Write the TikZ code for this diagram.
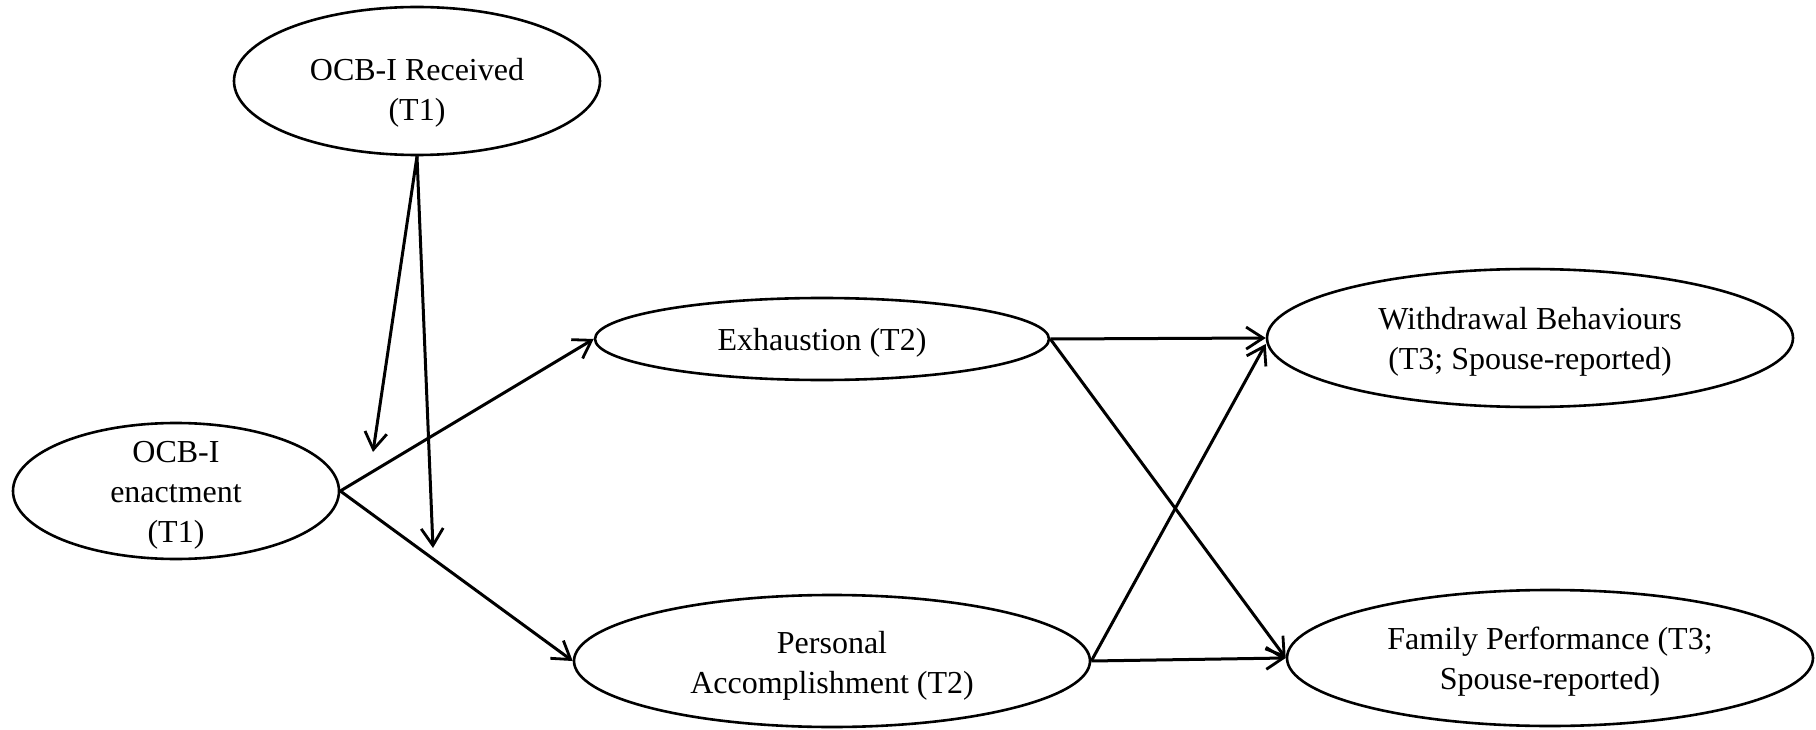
\documentclass[tikz,border=0pt]{standalone}
\usepackage{fontspec}
\setmainfont{Liberation Serif}
\usetikzlibrary{shapes.geometric,arrows.meta}
\begin{document}
\begin{tikzpicture}[x=1pt,y=-1pt,
  latent/.style={draw,ellipse,line width=2.6pt,inner sep=0pt},
  lbl/.style={align=center,inner sep=0pt,font=\fontsize{32}{40}\selectfont},
  path/.style={line width=3pt,-{Straight Barb[length=17pt,width=22pt,line width=2.8pt]}}]
\useasboundingbox (0,0) rectangle (1816,730);
\node[latent,minimum width=366pt,minimum height=148pt,
  label={[lbl,yshift=-12pt]center:OCB-I Received\\(T1)}] (rec) at (417,81) {};
\node[latent,minimum width=326pt,minimum height=136pt,
  label={[lbl,yshift=-4pt]center:OCB-I\\enactment\\(T1)}] (ena) at (176,491) {};
\node[latent,minimum width=454pt,minimum height=82pt,
  label={[lbl,yshift=-4pt]center:Exhaustion (T2)}] (exh) at (822,339) {};
\node[latent,minimum width=516pt,minimum height=132pt,
  label={[lbl,yshift=-5pt]center:Personal\\Accomplishment (T2)}] (pa) at (832,661) {};
\node[latent,minimum width=526pt,minimum height=138pt,
  label={[lbl,yshift=-4pt]center:Withdrawal Behaviours\\(T3; Spouse-reported)}] (wd) at (1530,338) {};
\node[latent,minimum width=526pt,minimum height=136pt,
  label={[lbl,yshift=-4pt]center:Family Performance (T3;\\Spouse-reported)}] (fam) at (1550,658) {};
\coordinate (m1) at (373,452);
\coordinate (m2) at (433,548);
\draw[path] (rec.south) -- (m1);
\draw[path] (rec.south) -- (m2);
\draw[path] (ena.east) -- (exh.west);
\draw[path] (ena.east) -- (pa.west);
\draw[path] (exh.east) -- (wd.west);
\draw[path] (exh.east) -- (fam.west);
\draw[path] (pa.east) -- ([yshift=-6pt]wd.west);
\draw[path] (pa.east) -- (fam.west);
\end{tikzpicture}
\end{document}
